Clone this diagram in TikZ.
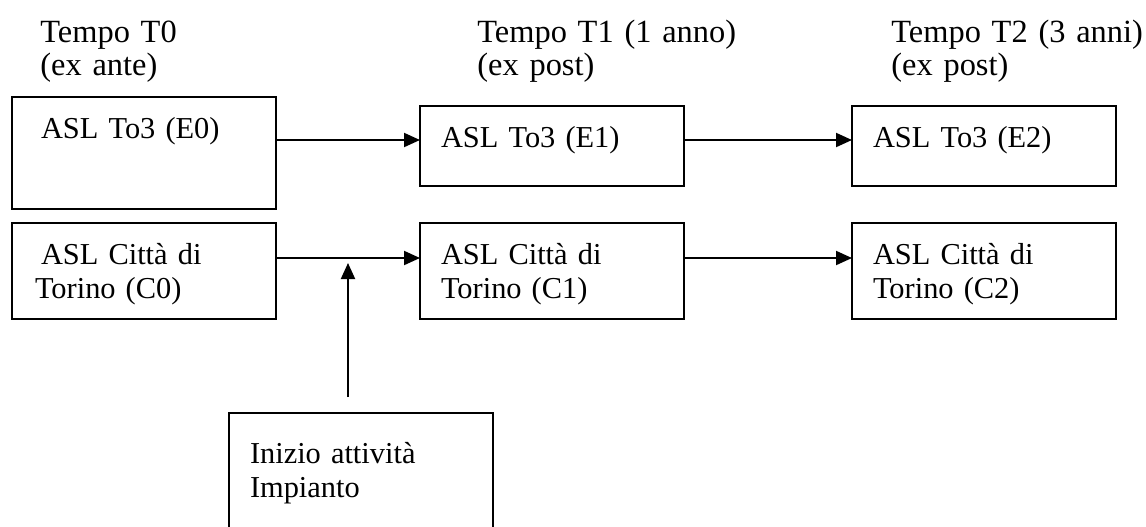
\documentclass[tikz,border=0pt]{standalone}
\usepackage{fontspec}
\setmainfont{Liberation Serif}
\usetikzlibrary{arrows.meta}

\tikzset{
  asl/.style={draw, line width=1pt, outer sep=0pt, anchor=north west,
    inner ysep=0pt, inner xsep=10.5pt, text width=111pt, align=left,
    text height=20.5pt, font=\fontsize{15.2}{17}\selectfont},
  tempo/.style={anchor=north west, inner sep=0pt, text width=140pt,
    align=left, text height=12pt, font=\fontsize{16.2}{16.5}\selectfont},
  freccia/.style={-{Triangle[length=8pt,width=7pt]}, line width=1pt},
}

\begin{document}
\begin{tikzpicture}[x=0.5pt, y=-0.5pt]
	\clip (0,0) rectangle (1146,526);

	% intestazioni
	\node[tempo] (t0) at (40,18)  {Tempo T0\\(ex ante)};
	\node[tempo] (t1) at (477,18) {Tempo T1 (1 anno)\\(ex post)};
	\node[tempo] (t2) at (891,18) {Tempo T2 (3 anni)\\(ex post)};

	% riquadri
	\node[asl, inner xsep=11.5pt, text width=109pt, text depth=35.5pt] (e0) at (12,97) {\hspace*{3pt}ASL To3 (E0)};
	\node[asl, text depth=19.5pt] (e1) at (420,106) {ASL To3 (E1)};
	\node[asl, text depth=19.5pt] (e2) at (852,106) {ASL To3 (E2)};
	\node[asl, inner xsep=11.5pt, text width=109pt, text depth=27.5pt] (c0) at (12,223) {\hspace*{3pt}ASL Città di\\Torino (C0)};
	\node[asl, text depth=27.5pt] (c1) at (420,223) {ASL Città di\\Torino (C1)};
	\node[asl, text depth=27.5pt] (c2) at (852,223) {ASL Città di\\Torino (C2)};
	\node[asl, text height=25pt, text depth=45pt] (imp) at (229,413) {Inizio attività\\Impianto};

	\path[freccia]
	([yshift=3pt]e1.west -| e0.east) edge ([yshift=3pt]e1.west)
	([yshift=3pt]e2.west -| e1.east) edge ([yshift=3pt]e2.west)
	([yshift=6.5pt]c2.west -| c1.east) edge ([yshift=6.5pt]c2.west);

	\draw[freccia] ([yshift=6.5pt]c1.west -| c0.east) -- coordinate[pos=.5] (innesto) ([yshift=6.5pt]c1.west);
	\draw[freccia] ([yshift=8pt]imp.north -| innesto) -- ([yshift=-2.5pt]innesto);
\end{tikzpicture}
\end{document}
